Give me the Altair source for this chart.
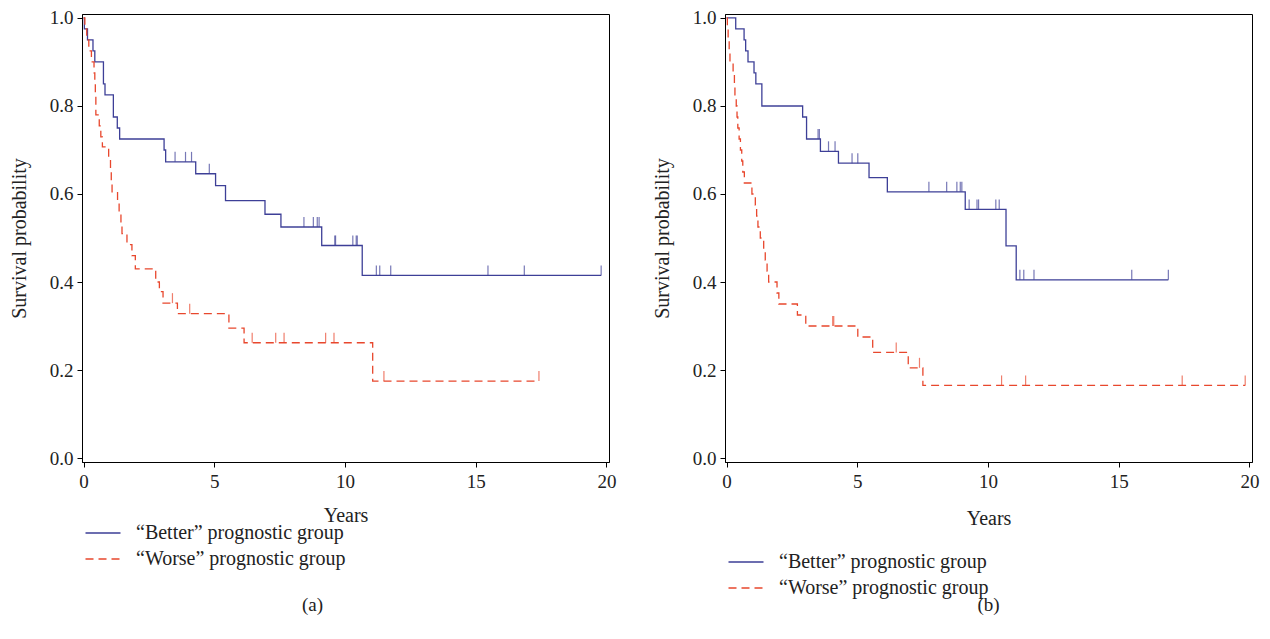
import altair as alt
import pandas as pd
import numpy as np

BETTER = "\u201cBetter\u201d prognostic group"
WORSE = "\u201cWorse\u201d prognostic group"
BLUE = "#3d3f97"
RED = "#e8472d"
FONT = "Liberation Serif"

# ---------------- Panel (a) ----------------
a_better_t = [0, 0.03, 0.15, 0.36, 0.43, 0.76, 0.82, 1.14, 1.29, 1.38, 3.08, 3.14,
              4.29, 5.05, 5.43, 6.94, 7.55, 9.11, 10.66, 19.8]
a_better_s = [1.0, 0.975, 0.95, 0.925, 0.9, 0.85, 0.825, 0.775, 0.75, 0.725, 0.70, 0.673,
              0.646, 0.619, 0.585, 0.554, 0.525, 0.483, 0.415, 0.415]
a_better_cens = [3.50, 3.90, 4.13, 4.81, 8.43, 8.79, 8.94, 9.01, 9.61, 9.64, 10.30, 10.43,
                 10.47, 11.2, 11.33, 11.75, 15.47, 16.86, 19.8]

a_worse_t = [0, 0.05, 0.12, 0.2, 0.3, 0.4, 0.43, 0.45, 0.47, 0.6, 0.66, 0.72, 0.96, 1.03,
             1.06, 1.09, 1.3, 1.36, 1.43, 1.47, 1.66, 1.85, 1.98, 2.76, 2.9, 3.04, 3.59,
             5.56, 6.14, 11.06, 17.42]
a_worse_s = [1.0, 0.975, 0.95, 0.925, 0.9, 0.875, 0.85, 0.825, 0.78, 0.755, 0.73, 0.707,
             0.68, 0.655, 0.63, 0.605, 0.58, 0.555, 0.53, 0.51, 0.485, 0.46, 0.43, 0.40,
             0.378, 0.352, 0.328, 0.295, 0.262, 0.175, 0.175]
a_worse_cens = [3.40, 4.06, 6.45, 7.35, 7.67, 9.26, 9.58, 11.49, 17.42]

# ---------------- Panel (b) ----------------
b_better_t = [0, 0.35, 0.67, 0.73, 0.82, 1.05, 1.12, 1.35, 2.91, 3.06, 3.59, 4.28, 5.45,
              6.15, 9.13, 10.69, 11.08, 16.9]
b_better_s = [1.0, 0.975, 0.95, 0.925, 0.9, 0.875, 0.85, 0.8, 0.775, 0.725, 0.697, 0.67,
              0.637, 0.605, 0.565, 0.482, 0.405, 0.405]
b_better_cens = [3.5, 3.55, 3.9, 4.15, 4.8, 5.02, 7.74, 8.42, 8.81, 8.94, 9.0, 9.28, 9.58,
                 9.64, 10.3, 10.43, 11.22, 11.37, 11.76, 15.5, 16.9]

b_worse_t = [0, 0.03, 0.06, 0.1, 0.13, 0.25, 0.3, 0.32, 0.37, 0.4, 0.43, 0.48, 0.53, 0.58,
             0.62, 0.68, 0.97, 1.1, 1.15, 1.2, 1.29, 1.42, 1.48, 1.55, 1.61, 1.93, 2.0,
             2.71, 3.03, 5.02, 5.59, 6.95, 7.51, 19.84]
b_worse_s = [1.0, 0.975, 0.95, 0.925, 0.9, 0.875, 0.85, 0.825, 0.8, 0.775, 0.75, 0.725,
             0.7, 0.675, 0.65, 0.625, 0.6, 0.575, 0.55, 0.525, 0.5, 0.475, 0.45, 0.425,
             0.4, 0.375, 0.35, 0.325, 0.3, 0.275, 0.24, 0.205, 0.165, 0.165]
b_worse_cens = [4.06, 4.1, 6.49, 7.38, 10.52, 11.44, 17.43, 19.84]

x_ticks = [0, 5, 10, 15, 20]
y_ticks = [0.0, 0.2, 0.4, 0.6, 0.8, 1.0]


def curve_df(t, s, group):
    return pd.DataFrame({"t": t, "s": s, "group": group})


def cens_df(tc, t, s):
    idx = np.searchsorted(np.array(t), np.array(tc), side="right") - 1
    idx = np.clip(idx, 0, len(s) - 1)
    return pd.DataFrame({"t": tc, "s": np.array(s)[idx]})


def panel(bt, bs, bc, wt, ws, wc, legend_y, caption, cap_dx, cap_off, x_title_pad):
    xs = alt.Scale(domain=[-0.06, 20.1], nice=False, zero=False)
    ys = alt.Scale(domain=[-0.009, 1.009], nice=False, zero=False)
    x = alt.X("t:Q", scale=xs,
              axis=alt.Axis(values=x_ticks, title="Years", format="d",
                            titlePadding=x_title_pad, labelPadding=5))
    y = alt.Y("s:Q", scale=ys,
              axis=alt.Axis(values=y_ticks, title="Survival probability", format=".1f",
                            titlePadding=20, labelPadding=4))
    leg = alt.Legend(title=None, orient="none", legendX=10, legendY=legend_y,
                     direction="vertical", symbolType="M-1.75,0H1.75", symbolSize=400,
                     symbolStrokeWidth=1.3, labelFont=FONT, labelFontSize=20,
                     labelColor="#222222", labelOffset=22, rowPadding=5,
                     labelLimit=400, padding=0)
    data = pd.concat([curve_df(bt, bs, BETTER), curve_df(wt, ws, WORSE)])
    lines = alt.Chart(data).mark_line(interpolate="step-after", strokeWidth=1.3).encode(
        x=x, y=y,
        color=alt.Color("group:N", scale=alt.Scale(domain=[BETTER, WORSE], range=[BLUE, RED]),
                        legend=leg),
        strokeDash=alt.StrokeDash("group:N",
                                  scale=alt.Scale(domain=[BETTER, WORSE], range=[[1, 0], [8, 5]]),
                                  legend=leg),
    )
    tb = alt.Chart(cens_df(bc, bt, bs)).mark_tick(
        orient="vertical", size=10, thickness=1.2, yOffset=-5, color=BLUE
    ).encode(x="t:Q", y="s:Q")
    tw = alt.Chart(cens_df(wc, wt, ws)).mark_tick(
        orient="vertical", size=10, thickness=1.2, yOffset=-5, color=RED
    ).encode(x="t:Q", y="s:Q")
    return alt.layer(lines, tb, tw).properties(
        width=527, height=448,
        title=alt.Title(caption, orient="bottom", font=FONT, fontSize=19,
                        fontWeight="normal", color="#222222", anchor="middle",
                        dx=cap_dx, offset=cap_off),
    )


pa = panel(a_better_t, a_better_s, a_better_cens, a_worse_t, a_worse_s, a_worse_cens,
           508, "(a)", -33, 27, 14)
pb = panel(b_better_t, b_better_s, b_better_cens, b_worse_t, b_worse_s, b_worse_cens,
           537, "(b)", 0, -2, 17)

chart = alt.hconcat(pa, pb, spacing=34).properties(
    padding={"left": 0, "top": 0, "right": 0, "bottom": 0},
    background="white",
).resolve_scale(
    color="independent", strokeDash="independent"
).resolve_legend(
    color="independent", strokeDash="independent"
).configure_view(stroke="black", strokeWidth=1).configure_axis(
    domainColor="black", tickColor="black", tickSize=5, grid=False,
    labelFont=FONT, labelFontSize=19, labelColor="#222222",
    titleFont=FONT, titleFontSize=20, titleFontWeight="normal", titleColor="#222222",
)

chart.save("out.html", embed_options={"renderer": "svg", "actions": False})
